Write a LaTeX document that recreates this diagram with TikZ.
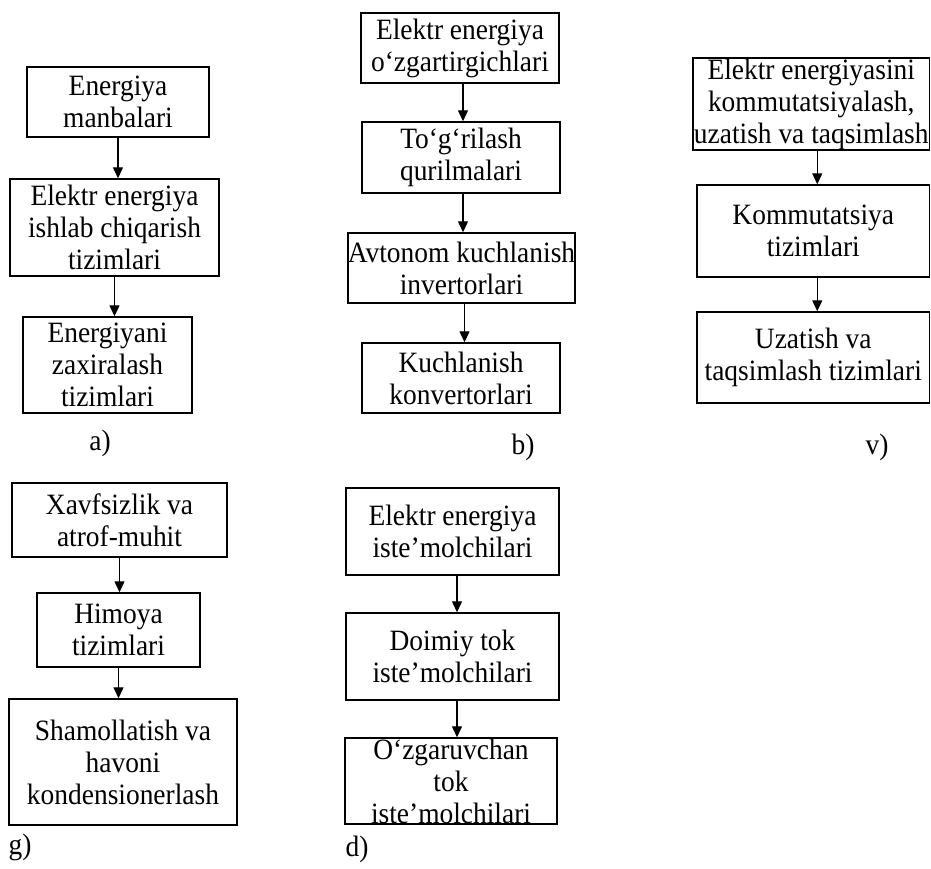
\documentclass[tikz,border=0pt]{standalone}
\usepackage{fontspec}
\setmainfont{Liberation Serif}[FakeStretch=0.93]
\usetikzlibrary{arrows.meta}

\tikzset{
  blk/.style={draw, line width=1.4pt, inner sep=0pt, align=center,
    font=\fontsize{29.5pt}{32pt}\selectfont},
  lbl/.style={inner sep=0pt, font=\fontsize{29.5pt}{32pt}\selectfont},
  arr/.style={line width=1.2pt, -{Triangle[length=11pt,width=10pt]}}
}

\begin{document}
\begin{tikzpicture}[x=1pt,y=-1pt]
\useasboundingbox (0,0) rectangle (931,868);
\fill[white] (0,0) rectangle (931,868);

% a) energy sources and generation
\node[blk, minimum width=182pt, minimum height=70pt] (a1) at (118,102) {Energiya\\manbalari};
\node[blk, minimum width=209pt, minimum height=97pt] (a2) at (114.5,227.5) {Elektr energiya\\ishlab chiqarish\\tizimlari};
\node[blk, minimum width=169pt, minimum height=96pt] (a3) at (107.5,365) {Energiyani\\zaxiralash\\tizimlari};
\node[lbl] (la) at (100,443) {a)};

% b) converters
\node[blk, minimum width=198pt, minimum height=70pt] (b1) at (460,48) {Elektr energiya\\o‘zgartirgichlari};
\node[blk, minimum width=198pt, minimum height=71pt] (b2) at (461,157.5) {To‘g‘rilash\\qurilmalari};
\node[blk, minimum width=223pt, minimum height=70pt] (b3) at (461.5,268) {Avtonom kuchlanish\\invertorlari};
\node[blk, minimum width=198pt, minimum height=70pt] (b4) at (461,378) {Kuchlanish\\konvertorlari};
\node[lbl] (lb) at (523,447) {b)};

% v) switching, transmission and distribution
\node[blk, minimum width=236.5pt, minimum height=92pt] (v1) at (811.25,104) {Elektr energiyasini\\kommutatsiyalash,\\uzatish va taqsimlash};
\node[blk, minimum width=232.5pt, minimum height=92pt] (v2) at (813.25,231) {Kommutatsiya\\tizimlari};
\node[blk, minimum width=232.5pt, minimum height=91pt] (v3) at (813.25,357.5) {Uzatish va\\taqsimlash tizimlari};
\node[lbl] (lv) at (877,447) {v)};

% g) safety and environment
\node[blk, minimum width=215pt, minimum height=74pt] (g1) at (119.5,520) {Xavfsizlik va\\atrof-muhit};
\node[blk, minimum width=163pt, minimum height=74pt] (g2) at (118.5,630) {Himoya\\tizimlari};
\node[blk, minimum width=228pt, minimum height=126pt] (g3) at (123,762) {Shamollatish va\\havoni\\kondensionerlash};
\node[lbl] (lg) at (20,847) {g)};

% d) consumers
\node[blk, minimum width=213pt, minimum height=87pt] (d1) at (452.5,531.5) {Elektr energiya\\iste’molchilari};
\node[blk, minimum width=213pt, minimum height=87pt] (d2) at (452.5,656.5) {Doimiy tok\\iste’molchilari};
\node[blk, minimum width=212pt, minimum height=86pt] (d3) at (451,781) {O‘zgaruvchan\\tok\\iste’molchilari};
\node[lbl] (ld) at (357,849) {d)};

% connectors
\draw[arr] (a1.south) -- (a1.south |- a2.north);
\draw[arr] (a2.south) -- (a2.south |- a3.north);

\draw[arr] ([xshift=3pt]b1.south) -- ([xshift=3pt]b1.south |- b2.north);
\draw[arr] ([xshift=2pt]b2.south) -- ([xshift=2pt]b2.south |- b3.north);
\draw[arr] ([xshift=3pt]b3.south) -- ([xshift=3pt]b3.south |- b4.north);

\draw[arr] ([xshift=6pt]v1.south) -- ([xshift=6pt]v1.south |- v2.north);
\draw[arr] ([xshift=4pt]v2.south) -- ([xshift=4pt]v2.south |- v3.north);

\draw[arr] (g1.south) -- (g1.south |- g2.north);
\draw[arr] (g2.south) -- (g2.south |- g3.north);

\draw[arr] ([xshift=4.5pt]d1.south) -- ([xshift=4.5pt]d1.south |- d2.north);
\draw[arr] ([xshift=4.5pt]d2.south) -- ([xshift=4.5pt]d2.south |- d3.north);
\end{tikzpicture}
\end{document}
